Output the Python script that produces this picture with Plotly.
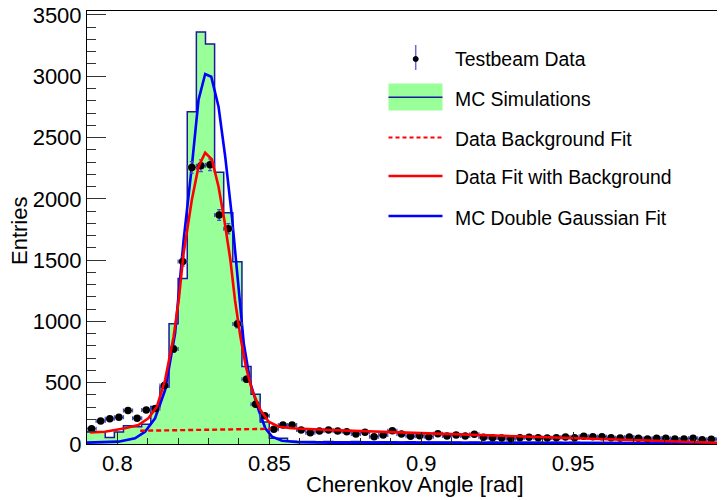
import numpy as np
import plotly.graph_objects as go

# ---------------- data ----------------
BIN_LO = 0.79
BIN_W = 0.003
N_BINS = 70

data_counts = [125, 187, 205, 218, 273, 211, 278, 290, 478, 775,
               1489, 2256, 2270, 2277, 1868, 1756, 978, 528, 324, 230,
               121, 154, 154, 114, 92, 106, 115, 106, 100, 82,
               95, 60, 73, 109, 82, 63, 68, 60, 84, 65,
               73, 65, 79, 55, 51, 49, 43, 51, 55, 51,
               49, 51, 57, 51, 63, 60, 60, 51, 49, 57,
               46, 41, 46, 46, 41, 41, 46, 35, 38, 38]

mc_counts = [97, 97, 53, 97, 148, 140, 162, 305, 465, 980,
             1350, 2710, 3360, 3263, 2216, 1887, 1487, 633, 405, 180,
             46, 46, 22, 20, 21, 19, 20, 18, 19, 20,
             18, 17, 19, 18, 17, 18, 16, 17, 16, 17,
             16, 15, 16, 15, 16, 14, 15, 14, 15, 14,
             13, 14, 13, 14, 13, 12, 13, 12, 13, 12,
             11, 12, 11, 12, 11, 10, 11, 10, 11, 10]

mc_fit_x = [0.7900, 0.8003, 0.8058, 0.8091, 0.8124, 0.8157, 0.8190, 0.8218,
            0.8245, 0.8267, 0.8289, 0.8309, 0.8333, 0.8355, 0.8377, 0.8399,
            0.8416, 0.8438, 0.8465, 0.8487, 0.8509, 0.8542, 0.8597, 0.8701,
            0.9000, 0.9500, 1.0000]
mc_fit_y = [11, 19, 46, 100, 210, 440, 903, 1664,
            2262, 2806, 3018, 2996, 2751, 2343, 1854, 1256,
            821, 495, 277, 128, 60, 27, 14, 11,
            9, 7, 6]

data_fit_x = [0.7910, 0.7959, 0.8025, 0.8069, 0.8102, 0.8130, 0.8157, 0.8185,
              0.8202, 0.8218, 0.8245, 0.8267, 0.8289, 0.8311, 0.8333, 0.8352,
              0.8372, 0.8387, 0.8405, 0.8423, 0.8443, 0.8471, 0.8498, 0.8531,
              0.8575, 0.8641, 0.8701, 0.9000, 0.9350, 0.9670, 1.0000]
data_fit_y = [95, 100, 128, 155, 210, 304, 522, 875,
              1175, 1555, 1990, 2262, 2376, 2322, 2099, 1827,
              1501, 1175, 875, 630, 440, 277, 182, 141,
              128, 120, 114, 89, 60, 30, 8]

bkg_fit_x = [0.8075, 0.8505]
bkg_fit_y = [108, 124]

x_ticks = [0.8, 0.85, 0.9, 0.95, 1.0]
x_tick_labels = ["0.8", "0.85", "0.9", "0.95", "1"]
y_ticks = [0, 500, 1000, 1500, 2000, 2500, 3000, 3500]

legend_labels = ["Testbeam Data", "MC Simulations", "Data Background Fit",
                 "Data Fit with Background", "MC Double Gaussian Fit"]

# ---------------- derived ----------------
edges = BIN_LO + BIN_W * np.arange(N_BINS + 1)
centers = BIN_LO + BIN_W * (np.arange(N_BINS) + 0.5)
data_err = np.sqrt(np.array(data_counts, dtype=float))

FONT = "Liberation Sans, Arial, Helvetica, sans-serif"
GREEN = "#99ff99"
NAVY = "#1a1a9c"
ERRC = "#4a4ac8"

# page body has an 8px margin; figure is sized/offset to compensate
OFF = 8
W, H = 725 - OFF, 500 - OFF
PLOT_L, PLOT_R, PLOT_T, PLOT_B = 87, 725, 11, 444   # target page pixels
L = PLOT_L - OFF
R = W - (PLOT_R - OFF)
T = PLOT_T - OFF
B = H - (PLOT_B - OFF)
PW, PH = PLOT_R - PLOT_L, PLOT_B - PLOT_T


def px(xp):
    return (xp - PLOT_L) / PW


def py(yp):
    return (PLOT_B - yp) / PH


fig = go.Figure()

# MC histogram (step outline + fill)
fig.add_trace(go.Scatter(
    x=edges, y=list(mc_counts) + [mc_counts[-1]],
    mode="lines", line=dict(shape="hv", color=NAVY, width=1.5),
    fill="tozeroy", fillcolor=GREEN, showlegend=False, hoverinfo="skip"))

# MC double gaussian fit
fig.add_trace(go.Scatter(
    x=mc_fit_x, y=mc_fit_y, mode="lines",
    line=dict(color="#0000ff", width=2.6), showlegend=False))

# Data points
fig.add_trace(go.Scatter(
    x=centers, y=data_counts, mode="markers",
    marker=dict(color="black", size=7.5),
    error_x=dict(type="constant", value=BIN_W / 2, color=ERRC, thickness=1.2, width=2),
    error_y=dict(type="data", array=data_err, color=ERRC, thickness=1.2, width=2),
    showlegend=False))

# Background fit (dashed)
fig.add_trace(go.Scatter(
    x=bkg_fit_x, y=bkg_fit_y, mode="lines",
    line=dict(color="#ff0000", width=2.4, dash="5px,3px"), showlegend=False))

# Data fit with background
fig.add_trace(go.Scatter(
    x=data_fit_x, y=data_fit_y, mode="lines",
    line=dict(color="#ff0000", width=2.6), showlegend=False))

# ---------------- manual legend ----------------
shapes = []
annotations = []
row_y = [59, 99, 139, 177.5, 217.5]
sx0, sx1 = 388.5, 442.5

shapes.append(dict(type="line", xref="paper", yref="paper",
                   x0=px(415.7), x1=px(415.7), y0=py(45), y1=py(70),
                   line=dict(color="#6a6ad0", width=1.5)))
shapes.append(dict(type="circle", xref="paper", yref="paper",
                   x0=px(413.2), x1=px(418.2), y0=py(56.5), y1=py(61.5),
                   fillcolor="black", line=dict(color="black", width=1)))
shapes.append(dict(type="rect", xref="paper", yref="paper",
                   x0=px(sx0), x1=px(sx1), y0=py(83.5), y1=py(110.5),
                   fillcolor=GREEN, line=dict(width=0)))
shapes.append(dict(type="line", xref="paper", yref="paper",
                   x0=px(sx0), x1=px(sx1), y0=py(97.3), y1=py(97.3),
                   line=dict(color=NAVY, width=1.5)))
shapes.append(dict(type="line", xref="paper", yref="paper",
                   x0=px(sx0), x1=px(sx1), y0=py(137.5), y1=py(137.5),
                   line=dict(color="#ff0000", width=2, dash="4px,3px")))
shapes.append(dict(type="line", xref="paper", yref="paper",
                   x0=px(sx0), x1=px(sx1), y0=py(176), y1=py(176),
                   line=dict(color="#ff0000", width=2.4)))
shapes.append(dict(type="line", xref="paper", yref="paper",
                   x0=px(sx0), x1=px(sx1), y0=py(216), y1=py(216),
                   line=dict(color="#0000ff", width=2.4)))

for lab, yy in zip(legend_labels, row_y):
    annotations.append(dict(text=lab, xref="paper", yref="paper",
                            x=px(452.5), y=py(yy), xanchor="left", yanchor="middle",
                            showarrow=False, font=dict(family=FONT, size=19.4, color="black")))

annotations.append(dict(text="Cherenkov Angle [rad]", xref="paper", yref="paper",
                        x=px(415), y=py(484), xanchor="center", yanchor="middle",
                        showarrow=False, font=dict(family=FONT, size=22, color="black")))
annotations.append(dict(text="Entries", xref="paper", yref="paper",
                        x=px(20), y=py(231), xanchor="center", yanchor="middle",
                        textangle=-90, showarrow=False,
                        font=dict(family=FONT, size=22, color="black")))

fig.update_layout(
    width=W, height=H,
    margin=dict(l=L, r=R, t=T, b=B, pad=0, autoexpand=False),
    paper_bgcolor="white", plot_bgcolor="white",
    font=dict(family=FONT, size=22, color="black"),
    showlegend=False,
    shapes=shapes, annotations=annotations,
    xaxis=dict(range=[0.79, 1.0], showgrid=False, zeroline=False, automargin=False,
               showline=True, linecolor="black", linewidth=1, mirror=True,
               tickmode="array", tickvals=x_ticks, ticktext=x_tick_labels,
               ticks="inside", ticklen=12, tickwidth=1, tickcolor="#222",
               ticklabeloverflow="allow",
               minor=dict(ticks="inside", ticklen=6, dtick=0.01, tick0=0.8,
                          tickcolor="#222", tickwidth=1, showgrid=False),
               tickfont=dict(family=FONT, size=22)),
    yaxis=dict(range=[0, 3532], showgrid=False, zeroline=False, automargin=False,
               showline=True, linecolor="black", linewidth=1, mirror=True,
               tickmode="array", tickvals=y_ticks,
               ticks="inside", ticklen=19, tickwidth=1, tickcolor="#333",
               ticklabeloverflow="allow",
               minor=dict(ticks="inside", ticklen=9, dtick=100, tick0=0,
                          tickcolor="#333", tickwidth=1, showgrid=False),
               tickfont=dict(family=FONT, size=22)),
)

fig.write_html("out.html")
